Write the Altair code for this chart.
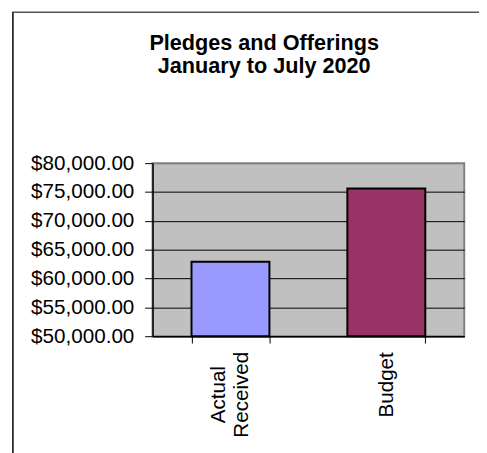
import altair as alt
import pandas as pd

categories = ["Actual Received", "Budget"]
amounts = [62900, 75600]
bar_colors = ["#9999FF", "#993366"]
y_ticks = [50000, 55000, 60000, 65000, 70000, 75000, 80000]
title_lines = ["Pledges and Offerings", "January to July 2020"]

df = pd.DataFrame({"category": categories, "amount": amounts, "color": bar_colors})
frame_df = pd.DataFrame({"k": [0]})

W, H = 317, 176
FONT = "Liberation Sans"

bars = alt.Chart(df).mark_bar(stroke="black", strokeWidth=2).encode(
    x=alt.X(
        "category:N",
        sort=categories,
        scale=alt.Scale(paddingInner=0.5, paddingOuter=0.25),
        axis=alt.Axis(
            title=None,
            labelAngle=270,
            labelAlign="center",
            labelBaseline="middle",
            labelExpr="datum.value ? split(datum.value, ' ') : ''",
            labelFont=FONT,
            labelFontSize=21,
            labelLineHeight=23,
            labelColor="black",
            labelPadding={"condition": {"test": "datum.value === 'Budget'", "value": 42}, "value": 52},
            labelOffset={"condition": {"test": "datum.value === 'Actual Received'", "value": -12}, "value": 0},
            tickBand="extent",
            tickSize=7,
            tickColor="black",
            domainColor="black",
            domainWidth=1.5,
            grid=False,
        ),
    ),
    y=alt.Y(
        "amount:Q",
        scale=alt.Scale(domain=[50000, 80000], nice=False, zero=False),
        axis=alt.Axis(
            title=None,
            values=y_ticks,
            format="$,.2f",
            labelFont=FONT,
            labelFontSize=21,
            labelColor="black",
            labelPadding=11,
            tickSize=8,
            tickColor="black",
            domainColor="black",
            domainWidth=1.5,
            grid=True,
            gridColor={"condition": {"test": "datum.value === 80000", "value": "#808080"}, "value": "black"},
            gridWidth=1,
        ),
    ),
    y2=alt.datum(50000),
    fill=alt.Color("color:N", scale=None),
)

left_line = alt.Chart(frame_df).mark_rule(color="black", strokeWidth=1.5).encode(
    x=alt.value(-142), y=alt.value(-154), y2=alt.value(300)
)
top_line = alt.Chart(frame_df).mark_rule(color="#555555", strokeWidth=1.5).encode(
    x=alt.value(-142), x2=alt.value(340), y=alt.value(-153.5)
)

chart = alt.layer(bars, left_line, top_line).properties(
    width=W,
    height=H,
    padding={"left": 147, "top": 154, "right": 15, "bottom": 115},
    autosize=alt.AutoSizeParams(type="none"),
    title=alt.TitleParams(
        text=title_lines,
        font=FONT,
        fontSize=22,
        fontWeight="bold",
        color="black",
        anchor="middle",
        frame="group",
        baseline="top",
        dx=-45,
        offset=-68,
        lineHeight=23,
    ),
    background="white",
).configure_view(fill="#C0C0C0", stroke="#808080", strokeWidth=2)

chart.save("out.html", embed_options={"renderer": "svg", "actions": False})
